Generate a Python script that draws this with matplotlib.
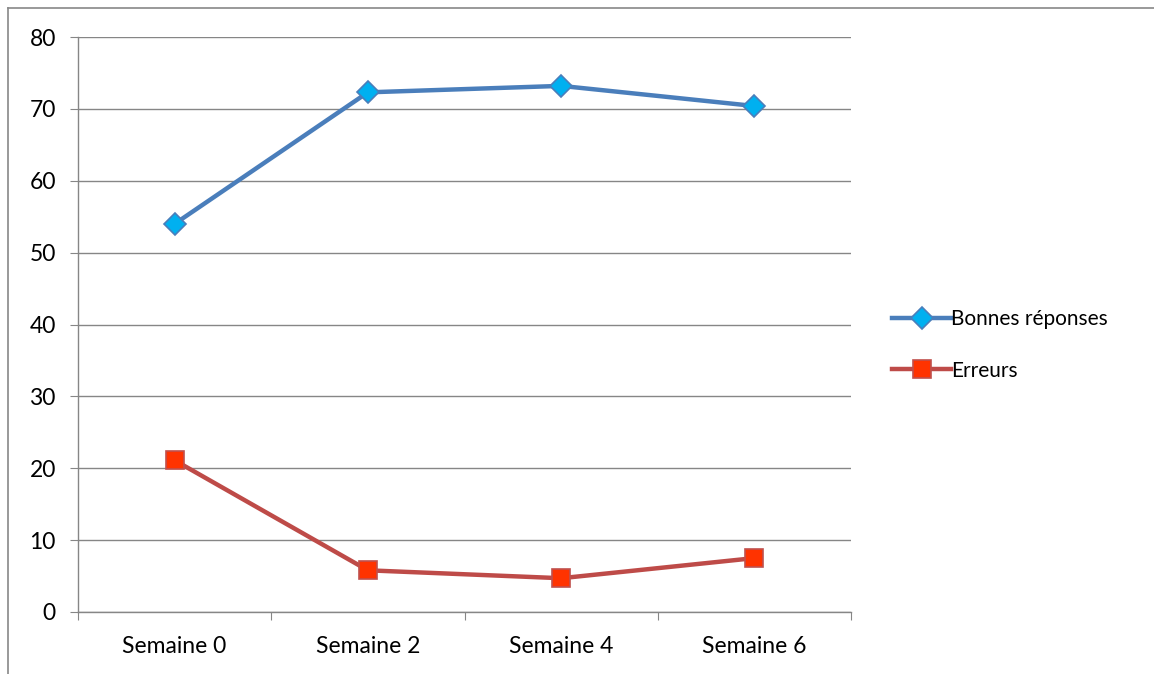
import matplotlib
matplotlib.use("Agg")
import matplotlib.pyplot as plt
from matplotlib.lines import Line2D

categories = ["Semaine 0", "Semaine 2", "Semaine 4", "Semaine 6"]
bonnes = [54.0, 72.3, 73.2, 70.4]
erreurs = [21.1, 5.8, 4.7, 7.5]
yticks = [0, 10, 20, 30, 40, 50, 60, 70, 80]

plt.rcParams['font.family'] = ['Lato', 'DejaVu Sans']

fig = plt.figure(figsize=(11.54, 6.74), dpi=100)
ax = fig.add_axes([78/1154, 1-612/674, (851-78)/1154, (612-37)/674])

grid_c = "#868686"
x = list(range(len(categories)))
l1, = ax.plot(x, bonnes, color="#4A7EBB", lw=3.2, marker="D", markersize=11,
              markerfacecolor="#00B0F0", markeredgecolor="#4A7EBB", markeredgewidth=1.2,
              label="Bonnes réponses", zorder=3)
l2, = ax.plot(x, erreurs, color="#BE4B48", lw=3.2, marker="s", markersize=13,
              markerfacecolor="#FF3300", markeredgecolor="#C0504D", markeredgewidth=1.2,
              label="Erreurs", zorder=3)

ax.set_xlim(-0.5, len(categories) - 0.5)
ax.set_ylim(0, 80)
ax.set_yticks(yticks)
ax.yaxis.grid(True, color=grid_c, lw=1)
ax.set_axisbelow(True)
for s in ["top", "right"]:
    ax.spines[s].set_visible(False)
ax.spines["left"].set_color(grid_c)
ax.spines["bottom"].set_color(grid_c)
ax.spines["left"].set_linewidth(1)
ax.spines["bottom"].set_linewidth(1)

ax.set_xticks([i - 0.5 for i in range(len(categories) + 1)])
ax.set_xticklabels([])
ax.set_xticks(x, minor=True)
ax.set_xticklabels(categories, minor=True)
ax.tick_params(axis="x", which="major", direction="out", length=6, color=grid_c)
ax.tick_params(axis="x", which="minor", length=0, pad=17, labelsize=16.5)
ax.tick_params(axis="y", direction="out", length=6, color=grid_c, labelsize=16.5, pad=10)

fig.legend(handles=[l1, l2], loc="center left", bbox_to_anchor=(884/1154, 1-345/674),
           frameon=False, fontsize=15, handlelength=2.8, handletextpad=0.0,
           labelspacing=1.5, borderaxespad=0)

fig.add_artist(Line2D([8/1154, 1.0], [1-8/674, 1-8/674], color="#888888", lw=1.2))
fig.add_artist(Line2D([8/1154, 8/1154], [0, 1-8/674], color="#888888", lw=1.2))

fig.savefig("out.png", dpi=100)
